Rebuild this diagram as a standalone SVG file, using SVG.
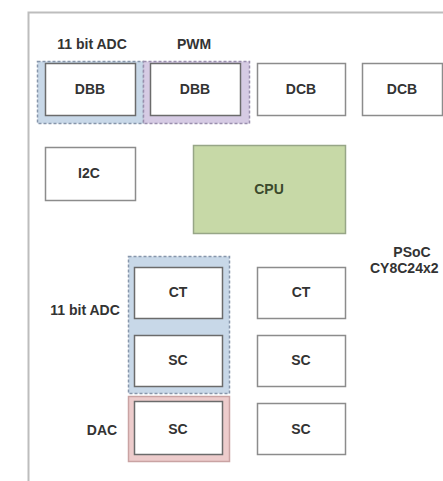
<svg xmlns="http://www.w3.org/2000/svg" width="443" height="481" viewBox="0 0 443 481">
<style>
text{font-family:"Liberation Sans",Arial,sans-serif;font-weight:bold;font-size:14px;fill:#333;}
.c{text-anchor:middle;dominant-baseline:central;}
.box{fill:#fff;stroke:#8c8c8c;stroke-width:1.5;}
.dbox{fill:#fff;stroke:#6b6b6b;stroke-width:1.5;}
.gblue{fill:#c8d8e8;stroke:#8796ab;stroke-width:1.5;stroke-dasharray:3 2;}
.gpurple{fill:#d6cbe4;stroke:#9a8fae;stroke-width:1.5;stroke-dasharray:3 2;}
.gpink{fill:#edcccc;stroke:#c9a3a3;stroke-width:1.5;}
.cpu{fill:#c7d9a7;stroke:#97a687;stroke-width:1.5;}
</style>
<rect x="0" y="0" width="443" height="481" fill="#fff"/>
<rect id="frame" x="28.5" y="12.5" width="500" height="520" fill="#fff" stroke="#bdbdbd" stroke-width="2"/>
<g id="grp-adc-top">
<rect class="gblue" x="37.5" y="61.5" width="106" height="62"/>
<text x="92" y="44" class="c">11 bit ADC</text>
</g>
<g id="grp-pwm">
<rect class="gpurple" x="143.5" y="61.5" width="106" height="62"/>
<text x="194" y="44" class="c">PWM</text>
</g>
<g id="dbb1"><rect class="dbox" x="45.5" y="63.5" width="90" height="52"/><text x="90" y="89" class="c">DBB</text></g>
<g id="dbb2"><rect class="dbox" x="150.5" y="63.5" width="90" height="52"/><text x="195" y="89" class="c">DBB</text></g>
<g id="dcb1"><rect class="box" x="257.5" y="63.5" width="88" height="52"/><text x="301" y="89" class="c">DCB</text></g>
<g id="dcb2"><rect class="box" x="362.5" y="63.5" width="80" height="52"/><text x="402" y="89" class="c">DCB</text></g>
<g id="i2c"><rect class="box" x="45.5" y="147.5" width="90" height="53"/><text x="89" y="173" class="c">I2C</text></g>
<g id="cpu"><rect class="cpu" x="193.5" y="145.5" width="152" height="88"/><text x="269" y="189" class="c" style="fill:#3b4a2c">CPU</text></g>
<g id="psoc-label">
<text x="412" y="252" class="c">PSoC</text>
<text x="370" y="268" dominant-baseline="central">CY8C24x2</text>
</g>
<g id="grp-adc-bottom">
<rect class="gblue" x="128.5" y="256.5" width="101" height="137"/>
<text x="85" y="310" class="c">11 bit ADC</text>
</g>
<g id="grp-dac">
<rect class="gpink" x="128.5" y="396.5" width="101" height="65"/>
<text x="102" y="430" class="c">DAC</text>
</g>
<g id="ct1"><rect class="dbox" x="134.5" y="267.5" width="88" height="51"/><text x="178" y="292" class="c">CT</text></g>
<g id="sc1"><rect class="dbox" x="134.5" y="335.5" width="88" height="51"/><text x="178" y="360" class="c">SC</text></g>
<g id="sc2"><rect class="dbox" x="134.5" y="401.5" width="88" height="53"/><text x="178" y="429" class="c">SC</text></g>
<g id="ct2"><rect class="box" x="257.5" y="267.5" width="88" height="51"/><text x="301" y="292" class="c">CT</text></g>
<g id="sc3"><rect class="box" x="257.5" y="335.5" width="88" height="51"/><text x="301" y="360" class="c">SC</text></g>
<g id="sc4"><rect class="box" x="257.5" y="403.5" width="88" height="51"/><text x="301" y="429" class="c">SC</text></g>
<g id="connectors"></g>
</svg>
